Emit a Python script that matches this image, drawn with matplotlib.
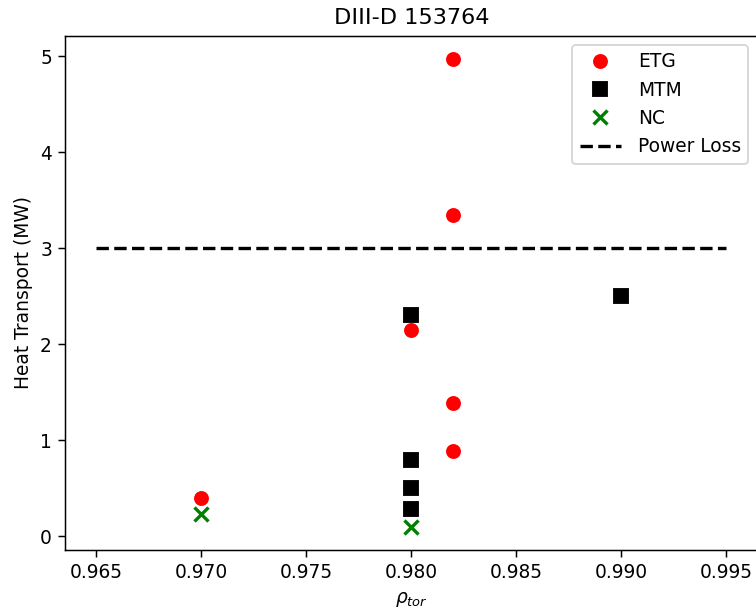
import numpy as np
import matplotlib.pyplot as plt

# Heat transport estimates by mode, DIII-D shot 153764
etg_rho = [0.970, 0.980, 0.982, 0.982, 0.982, 0.982]
etg_q = [0.40, 2.15, 4.97, 3.35, 1.39, 0.89]

mtm_rho = [0.980, 0.980, 0.980, 0.980, 0.990]
mtm_q = [2.30, 0.80, 0.50, 0.28, 2.50]

nc_rho = [0.970, 0.980]
nc_q = [0.23, 0.10]

loss_rho = [0.965, 0.995]
loss_q = [3.0, 3.0]

dpi = 134
fig = plt.figure(figsize=(756 / dpi, 614 / dpi), dpi=dpi)
ax = fig.add_axes([0.086, 0.104, 0.916, 0.838])

h_mtm, = ax.plot(mtm_rho, mtm_q, 's', color='black', markersize=7, label='MTM')
h_etg, = ax.plot(etg_rho, etg_q, 'o', color='red', markersize=7, label='ETG')
h_nc, = ax.plot(nc_rho, nc_q, 'x', color='green', markersize=7, markeredgewidth=1.8, label='NC')
h_loss, = ax.plot(loss_rho, loss_q, '--', color='black', linewidth=1.8, label='Power Loss')

ax.set_title('DIII-D 153764')
ax.set_xlabel(r'$\rho_{tor}$')
ax.set_ylabel('Heat Transport (MW)')
ax.set_xticks(np.arange(0.965, 0.9951, 0.005))
ax.legend(handles=[h_etg, h_mtm, h_nc, h_loss], loc='upper right',
          handlelength=2.2, handletextpad=0.9)

fig.savefig('out.png', dpi=dpi)
